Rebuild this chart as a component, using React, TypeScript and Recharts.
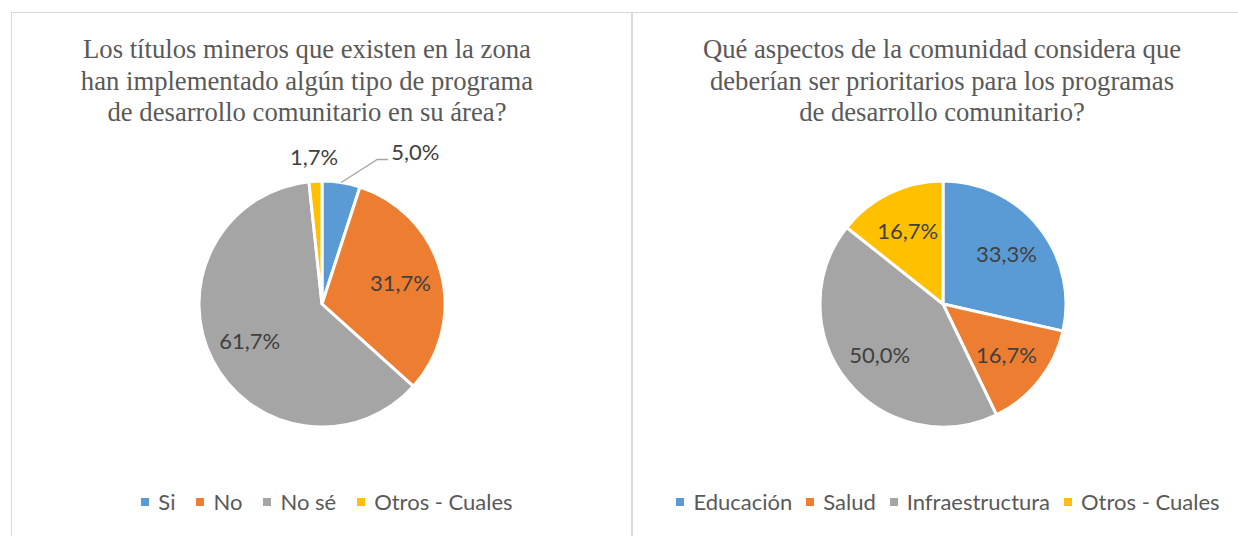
import { PieChart, Pie, Cell, Legend } from "recharts"

const COLORS = ["#5b9bd5", "#ed7d31", "#a5a5a5", "#ffc000"]

const LEFT_TITLE = [
  "Los títulos mineros que existen en la zona",
  "han implementado algún tipo de programa",
  "de desarrollo comunitario en su área?",
]
const LEFT_NAMES = ["Si", "No", "No sé", "Otros - Cuales"]
const LEFT_VALUES = [5.0, 31.7, 61.7, 1.7]

const RIGHT_TITLE = [
  "Qué aspectos de la comunidad considera que",
  "deberían ser prioritarios para los programas",
  "de desarrollo comunitario?",
]
const RIGHT_NAMES = ["Educación", "Salud", "Infraestructura", "Otros - Cuales"]
const RIGHT_VALUES = [33.3, 16.7, 50.0, 16.7]

const RADIAN = Math.PI / 180
const LABEL_FONT = "Lato, 'Open Sans', sans-serif"
const fmt = (v: number) => v.toFixed(1).replace(".", ",") + "%"

type Mode = "leader" | "above"

function makeLabel(outside: Record<number, Mode>) {
  return (props: any) => {
    const { cx, cy, midAngle, outerRadius, index, value } = props
    const cos = Math.cos(-midAngle * RADIAN)
    const sin = Math.sin(-midAngle * RADIAN)
    const mode = outside[index]
    const textProps = {
      fill: "#404040",
      fontSize: 22,
      fontFamily: LABEL_FONT,
      dominantBaseline: "central" as const,
    }
    if (mode === "leader") {
      // small slice: label pushed out to the upper right with a leader line
      const sx = cx + outerRadius * cos
      const sy = cy + outerRadius * sin
      const ex = sx + 36
      const ey = sy - 23
      return (
        <g>
          <polyline
            points={`${sx},${sy} ${ex},${ey} ${ex + 11},${ey}`}
            stroke="#a6a6a6"
            strokeWidth={1.3}
            fill="none"
          />
          <text x={ex + 14} y={ey - 8} textAnchor="start" {...textProps}>
            {fmt(value)}
          </text>
        </g>
      )
    }
    const r = mode === "above" ? outerRadius * 1.2 : outerRadius * 0.66
    return (
      <text x={cx + r * cos} y={cy + r * sin} textAnchor="middle" {...textProps}>
        {fmt(value)}
      </text>
    )
  }
}

function legendContent(names: string[], gap: number) {
  return () => (
    <div
      style={{
        display: "flex",
        justifyContent: "center",
        gap,
        paddingLeft: 12,
        fontFamily: LABEL_FONT,
        fontSize: 22,
        color: "#595959",
        lineHeight: "26px",
      }}
    >
      {names.map((n, i) => (
        <span key={n} style={{ display: "flex", alignItems: "center" }}>
          <span style={{ width: 8, height: 8, background: COLORS[i], marginRight: 9 }} />
          {n}
        </span>
      ))}
    </div>
  )
}

interface PanelProps {
  left: number
  title: string[]
  titleShift: number
  names: string[]
  values: number[]
  legendGap: number
  outside: Record<number, Mode>
}

function Panel({ left, title, titleShift, names, values, legendGap, outside }: PanelProps) {
  const data = names.map((name, i) => ({ name, value: values[i] }))
  return (
    <div style={{ position: "absolute", left, top: 0, width: 620, height: 536 }}>
      <div
        style={{
          position: "absolute",
          left: 0,
          top: 12,
          width: 621,
          height: 600,
          border: "1px solid #d9d9d9",
          boxSizing: "border-box",
        }}
      />
      <div
        style={{
          position: "absolute",
          left: titleShift,
          top: 34,
          width: 620,
          textAlign: "center",
          fontFamily: "'Liberation Serif', 'Times New Roman', serif",
          fontSize: 26.67,
          lineHeight: "31.5px",
          color: "#595959",
        }}
      >
        {title.map((t) => (
          <div key={t}>{t}</div>
        ))}
      </div>
      <div style={{ position: "absolute", left: 0, top: 0 }}>
        <PieChart width={620} height={536} margin={{ top: 0, right: 0, bottom: 0, left: 0 }}>
          <Pie
            data={data}
            dataKey="value"
            nameKey="name"
            cx={311}
            cy={304}
            outerRadius={123}
            startAngle={90}
            endAngle={-270}
            stroke="#ffffff"
            strokeWidth={3}
            labelLine={false}
            label={makeLabel(outside)}
            isAnimationActive={false}
          >
            {data.map((d, i) => (
              <Cell key={d.name} fill={COLORS[i]} />
            ))}
          </Pie>
          <Legend
            content={legendContent(names, legendGap)}
            wrapperStyle={{ position: "absolute", left: 0, top: 489, width: 620 }}
          />
        </PieChart>
      </div>
    </div>
  )
}

export default function App() {
  return (
    <div
      style={{
        position: "absolute",
        left: 0,
        top: 0,
        width: 1238,
        height: 536,
        background: "#ffffff",
        overflow: "hidden",
      }}
    >
      <Panel
        left={11}
        title={LEFT_TITLE}
        titleShift={-14}
        names={LEFT_NAMES}
        values={LEFT_VALUES}
        legendGap={21}
        outside={{ 0: "leader", 3: "above" }}
      />
      <Panel
        left={632}
        title={RIGHT_TITLE}
        titleShift={0}
        names={RIGHT_NAMES}
        values={RIGHT_VALUES}
        legendGap={14}
        outside={{}}
      />
    </div>
  )
}
